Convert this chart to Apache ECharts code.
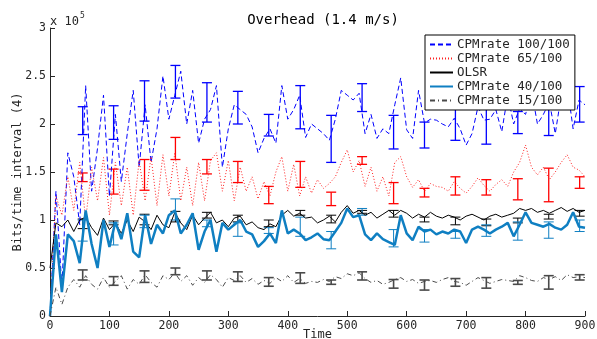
<!DOCTYPE html>
<html lang="en">
<head>
    <meta charset="UTF-8"/>
    <title>Overhead</title>
    <script type="text/javascript" src="https://cdn.jsdelivr.net/npm/echarts@6/dist/echarts.min.js"></script>
    <style>
        html, body { margin: 0; padding: 0; background: #fff; }
    </style>
</head>
<body>
<div id="main" style="width: 597px;height: 339px"></div>
<script type="text/javascript">
    // time axis (s), one sample every 10 s
    var times = [];
    for (var t = 0; t <= 900; t += 10) times.push(t);

    // values in units of 10^5 bits
    var cpm100 = [0, 1.3, 0.3, 1.7, 1.45, 0.95, 2.4, 1.3, 1.75, 2.3,
        1.25, 2.1, 1.4, 1.9, 2.35, 1.55, 2.2, 1.6, 1.95, 2.5,
        2.05, 2.3, 2.55, 2.0, 2.35, 1.8, 2.05, 2.15, 2.4, 1.55,
        1.95, 2.2, 2.15, 2.1, 1.97, 1.7, 1.85, 1.95, 1.8, 2.4,
        2.05, 2.15, 2.3, 1.86, 2.0, 1.95, 1.9, 1.83, 2.05, 2.35,
        2.3, 2.25, 2.32, 1.9, 2.1, 1.85, 1.95, 1.9, 2.2, 2.48,
        1.94, 1.85, 2.35, 2.01, 2.05, 2.04, 2.0, 1.97, 2.06, 1.95,
        1.78, 1.9, 2.18, 2.04, 2.05, 2.15, 1.92, 2.3, 2.0, 2.16,
        2.1, 2.35, 2.0, 2.1, 2.23, 1.9, 2.3, 2.4, 1.95, 2.25, 2.2];
    var cpm65 = [0, 1.25, 1.05, 1.45, 1.1, 1.6, 1.0, 1.55, 1.2, 1.65,
        1.05, 1.6, 1.15, 1.55, 1.05, 1.62, 1.2, 1.66, 1.15, 1.68,
        1.25, 1.7, 1.2, 1.55, 1.15, 1.6, 1.2, 1.62, 1.7, 1.3,
        1.62, 1.2, 1.55, 1.3, 1.45, 1.22, 1.4, 1.25, 1.5, 1.66,
        1.3, 1.58, 1.25, 1.45, 1.28, 1.42, 1.33, 1.38, 1.45, 1.6,
        1.73, 1.5, 1.62, 1.35, 1.55, 1.3, 1.45, 1.25, 1.6, 1.66,
        1.45, 1.34, 1.42, 1.3, 1.38, 1.35, 1.34, 1.3, 1.4, 1.33,
        1.28, 1.35, 1.44, 1.36, 1.3, 1.37, 1.42, 1.35, 1.5, 1.6,
        1.78, 1.55, 1.47, 1.55, 1.42, 1.5, 1.6, 1.68, 1.55, 1.52, 1.45];
    var olsr = [0.5, 0.97, 0.93, 1.0, 0.88, 1.0, 1.03, 0.92, 0.84, 1.02,
        0.9, 0.97, 0.86, 1.0, 0.88, 1.03, 0.98, 0.9, 1.05, 0.95,
        0.92, 1.08, 0.97, 0.9, 1.05, 0.95, 1.02, 1.08, 0.97, 1.0,
        0.93, 1.02, 1.04, 0.95, 0.98, 0.92, 0.9, 0.96, 0.93, 1.05,
        1.1, 1.04, 1.07, 1.02, 1.03, 0.97, 1.0, 1.04, 0.98, 1.08,
        1.15, 1.07, 1.1, 1.05, 1.08, 1.02, 1.06, 1.1, 1.05, 1.1,
        1.07, 1.02, 1.06, 1.03, 1.08, 1.04, 1.02, 1.05, 1.03, 1.0,
        1.04, 1.06, 1.03, 1.0, 1.04, 1.06, 1.03, 1.05, 1.07, 1.12,
        1.1, 1.12, 1.08, 1.1, 1.07, 1.1, 1.13, 1.09, 1.12, 1.08, 1.1];
    var cpm40 = [0, 0.85, 0.25, 0.85, 0.78, 0.55, 1.1, 0.75, 0.5, 1.0,
        0.72, 0.98, 0.8, 1.07, 0.67, 0.61, 1.05, 0.75, 0.95, 0.86,
        1.05, 1.1, 0.86, 0.95, 1.07, 0.69, 0.88, 1.0, 0.67, 0.97,
        0.9, 0.95, 1.0, 0.88, 0.85, 0.72, 0.78, 0.86, 0.76, 1.1,
        0.86, 0.9, 0.86, 0.79, 0.82, 0.86, 0.8, 0.79, 0.88, 0.97,
        1.12, 1.03, 1.05, 0.85, 0.79, 0.86, 0.8, 0.77, 0.74, 1.05,
        0.86, 0.79, 0.93, 0.88, 0.9, 0.85, 0.88, 0.86, 0.9, 0.88,
        0.76, 0.9, 0.93, 0.9, 0.86, 0.9, 0.93, 0.97, 0.83, 0.95,
        1.08, 0.97, 0.95, 0.93, 0.96, 0.92, 0.9, 0.95, 1.08, 0.93, 0.92];
    var cpm15 = [0, 0.3, 0.12, 0.3, 0.38, 0.3, 0.42, 0.33, 0.28, 0.4,
        0.3, 0.36, 0.42, 0.28, 0.38, 0.33, 0.43, 0.35, 0.3, 0.42,
        0.38, 0.45, 0.36, 0.42, 0.32, 0.4, 0.35, 0.43, 0.38, 0.3,
        0.4, 0.37, 0.42, 0.35, 0.39, 0.33, 0.37, 0.34, 0.4, 0.36,
        0.42, 0.35, 0.39, 0.34, 0.36, 0.35, 0.38, 0.36, 0.41, 0.39,
        0.44, 0.42, 0.45, 0.39, 0.35, 0.37, 0.33, 0.35, 0.38, 0.4,
        0.36, 0.38, 0.34, 0.36, 0.37, 0.35, 0.38, 0.4, 0.36, 0.35,
        0.32, 0.36, 0.4, 0.37, 0.34, 0.36, 0.38, 0.37, 0.36, 0.42,
        0.4, 0.37, 0.36, 0.4, 0.38, 0.41, 0.37, 0.43, 0.4, 0.41, 0.4];

    // error bars: positions and [low, high] per series
    var errTimes = [55, 107, 159, 211, 264, 316, 368, 421, 473, 525, 578, 630, 682, 734, 787, 839, 891];
    var err100Lo = [1.89, 1.84, 2.03, 2.27, 2.02, 2.0, 1.875, 1.95, 1.6, 2.13, 1.74, 1.75, 1.83, 1.79, 1.9, 1.88, 2.02];
    var err100Hi = [2.18, 2.19, 2.45, 2.61, 2.43, 2.34, 2.1, 2.4, 2.09, 2.42, 2.09, 2.02, 2.17, 2.19, 2.13, 2.3, 2.39];
    var err65Lo = [1.4, 1.27, 1.31, 1.63, 1.48, 1.39, 1.17, 1.34, 1.15, 1.58, 1.17, 1.24, 1.26, 1.26, 1.21, 1.19, 1.33];
    var err65Hi = [1.49, 1.53, 1.63, 1.86, 1.63, 1.61, 1.35, 1.61, 1.29, 1.66, 1.39, 1.33, 1.45, 1.42, 1.43, 1.54, 1.45];
    var errOlsrLo = [0.91, 0.95, 0.95, 0.98, 1.02, 0.98, 0.93, 1.05, 0.97, 1.07, 1.03, 0.98, 0.95, 0.94, 0.97, 1.01, 1.04];
    var errOlsrHi = [1.01, 0.99, 1.06, 1.09, 1.08, 1.05, 1.0, 1.1, 1.05, 1.1, 1.1, 1.03, 1.03, 1.01, 1.02, 1.06, 1.1];
    var err40Lo = [0.78, 0.74, 0.92, 1.0, 0.93, 0.83, 0.86, 0.83, 0.7, 1.05, 0.72, 0.77, 0.81, 0.83, 0.79, 0.81, 0.88];
    var err40Hi = [1.0, 0.97, 1.05, 1.22, 1.0, 0.97, 0.92, 1.03, 0.88, 1.12, 0.9, 0.9, 0.88, 0.95, 0.98, 0.98, 1.0];
    var err15Lo = [0.375, 0.32, 0.35, 0.43, 0.375, 0.36, 0.31, 0.34, 0.33, 0.375, 0.29, 0.27, 0.31, 0.29, 0.33, 0.28, 0.375];
    var err15Hi = [0.48, 0.41, 0.47, 0.5, 0.47, 0.46, 0.4, 0.45, 0.375, 0.46, 0.38, 0.375, 0.39, 0.4, 0.37, 0.42, 0.43];

    var yTicks = [0, 0.5, 1, 1.5, 2, 2.5, 3];

    var mono = 'DejaVu Sans Mono';

    function pairs(xs, ys) {
        var out = [];
        for (var i = 0; i < xs.length; i++) out.push([xs[i], ys[i]]);
        return out;
    }
    function triples(xs, lo, hi) {
        var out = [];
        for (var i = 0; i < xs.length; i++) out.push([xs[i], lo[i], hi[i]]);
        return out;
    }

    // draws one vertical error bar with caps
    function errBar(color, width) {
        return function (params, api) {
            var a = api.coord([api.value(0), api.value(1)]);
            var b = api.coord([api.value(0), api.value(2)]);
            var hw = 5;
            var st = {stroke: color, lineWidth: width};
            return {
                type: 'group',
                children: [
                    {type: 'line', shape: {x1: a[0], y1: a[1], x2: b[0], y2: b[1]}, style: st},
                    {type: 'line', shape: {x1: a[0] - hw, y1: a[1], x2: a[0] + hw, y2: a[1]}, style: st},
                    {type: 'line', shape: {x1: b[0] - hw, y1: b[1], x2: b[0] + hw, y2: b[1]}, style: st}
                ]
            };
        };
    }

    function lineSeries(name, data, color, width, type) {
        return {
            name: name, type: 'line', data: pairs(times, data),
            symbol: 'none', animation: false,
            lineStyle: {color: color, width: width, type: type},
            itemStyle: {color: color}
        };
    }
    function errSeries(lo, hi, color, width) {
        return {
            type: 'custom', data: triples(errTimes, lo, hi),
            renderItem: errBar(color, width), animation: false,
            encode: {x: 0, y: [1, 2]}, z: 3
        };
    }

    var blue = '#0000ff', red = '#ff2020', black = '#000000', cyan = '#0f7fc2', gray = '#4a4a4a';

    var myChart = echarts.init(document.getElementById('main'));

    var option = {
        animation: false,
        title: {
            text: 'Overhead (1.4 m/s)',
            left: 318, top: 8, textAlign: 'center',
            textStyle: {fontFamily: mono, fontSize: 14, fontWeight: 'normal', color: '#000'}
        },
        graphic: [{
            type: 'text', left: 50, top: 12,
            style: {
                text: '{a|x 10}{s|5}',
                rich: {
                    a: {fontFamily: mono, fontSize: 12, fill: '#262626', verticalAlign: 'bottom'},
                    s: {fontFamily: mono, fontSize: 8, fill: '#262626', verticalAlign: 'top', padding: [0, 0, 8, 1]}
                }
            }
        }],
        grid: {left: 50, right: 12, top: 28, bottom: 23, outerBoundsMode: 'none', containLabel: false},
        legend: {
            data: ['CPMrate 100/100', 'CPMrate 65/100', 'OLSR', 'CPMrate 40/100', 'CPMrate 15/100'],
            orient: 'vertical', left: 425, top: 35,
            itemWidth: 23, itemHeight: 12, itemGap: 1,
            padding: [3, 5, 3, 4],
            backgroundColor: '#fff', borderColor: '#000', borderWidth: 1,
            itemStyle: {color: 'rgba(0,0,0,0)', borderWidth: 0, opacity: 0},
            textStyle: {fontFamily: mono, fontSize: 12.5, color: '#262626', padding: [0, 0, 0, -1]}
        },
        xAxis: {
            type: 'value', min: 0, max: 900, interval: 100,
            name: 'Time', nameLocation: 'middle', nameGap: 13, nameMoveOverlap: false,
            nameTextStyle: {fontFamily: mono, fontSize: 12, color: '#262626'},
            axisLine: {lineStyle: {color: '#262626', width: 1}},
            axisTick: {inside: true, length: 5, lineStyle: {color: '#262626'}},
            axisLabel: {fontFamily: mono, fontSize: 11.5, color: '#262626', margin: 4},
            splitLine: {show: false}
        },
        yAxis: {
            type: 'value', min: 0, max: 3, interval: 0.5,
            name: 'Bits/time interval (4)', nameLocation: 'middle', nameGap: 26, nameMoveOverlap: false,
            nameTextStyle: {fontFamily: mono, fontSize: 12, color: '#262626'},
            axisLine: {show: true, lineStyle: {color: '#262626', width: 1}},
            axisTick: {show: true, inside: true, length: 5, lineStyle: {color: '#262626'}},
            axisLabel: {
                fontFamily: mono, fontSize: 11.5, color: '#262626', margin: 4,
                formatter: function (v) {
                    return yTicks.indexOf(v) >= 0 ? String(v) : '';
                }
            },
            splitLine: {show: false}
        },
        series: [
            lineSeries('CPMrate 100/100', cpm100, blue, 1, [5, 3]),
            lineSeries('CPMrate 65/100', cpm65, red, 1, [1, 2]),
            lineSeries('OLSR', olsr, black, 1, 'solid'),
            lineSeries('CPMrate 40/100', cpm40, cyan, 2.5, 'solid'),
            lineSeries('CPMrate 15/100', cpm15, gray, 1, [5, 3, 1, 3]),
            errSeries(err100Lo, err100Hi, blue, 1.3),
            errSeries(err65Lo, err65Hi, '#ff0000', 1.3),
            errSeries(errOlsrLo, errOlsrHi, black, 1),
            errSeries(err40Lo, err40Hi, cyan, 1),
            errSeries(err15Lo, err15Hi, gray, 1.6)
        ]
    };

    myChart.setOption(option);
</script>
</body>
</html>
